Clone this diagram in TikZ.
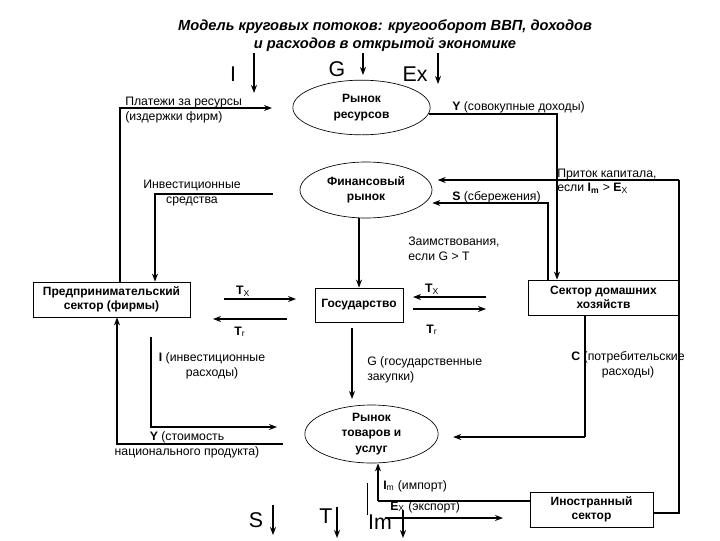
\documentclass[tikz,border=0pt]{standalone}
\usepackage{fontspec}
\setmainfont{Liberation Sans}
\usetikzlibrary{shapes.geometric,arrows.meta}
\begin{document}
\begin{tikzpicture}[x=0.75pt,y=-0.75pt,
  lbl/.style={font=\fontsize{9.2}{11}\selectfont, inner sep=0, align=center},
  big/.style={font=\fontsize{16}{18}\selectfont, inner sep=0},
  boxn/.style={draw, line width=0.6pt, font=\fontsize{9}{10.5}\selectfont\bfseries, align=center, inner sep=0},
  mkt/.style={ellipse, draw, line width=0.5pt, inner sep=0},
  mkttext/.style={font=\fontsize{9}{11.5}\selectfont\bfseries, align=center, inner sep=0},
  thinl/.style={line width=0.8pt},
  topl/.style={line width=1.1pt},
  thickl/.style={line width=2.2pt},
  tip/.style={-{Stealth[length=6pt,width=4.5pt]}},
]
\useasboundingbox (0,0) rectangle (720,540);

% title
\node[font=\fontsize{11}{13.5}\selectfont\bfseries\itshape, align=center] (title) at (385,36) {Модель круговых потоков: кругооборот ВВП, доходов\\и расходов в открытой экономике};

% big letters at top
\node[big] (bI) at (233,74) {I};
\node[big] (bG) at (337,69) {G};
\node[big] (bEx) at (415,74) {Ex};
\coordinate (aI1) at (254,53); \coordinate (aI2) at (254,93);
\coordinate (aG1) at (363,53); \coordinate (aG2) at (363,75);
\coordinate (aE1) at (438,53); \coordinate (aE2) at (438,84);
\draw[topl,tip] (aI1) -- (aI2);
\draw[topl,tip] (aG1) -- (aG2);
\draw[topl,tip] (aE1) -- (aE2);

% markets
\node[mkt, minimum width=103pt, minimum height=41pt] (resmkt) at (361.5,107.5) {};
\node[mkttext] (resmktT) at (resmkt.center) {Рынок\\ресурсов};
\node[mkt, minimum width=99pt, minimum height=42pt] (finmkt) at (366,190) {};
\node[mkttext] (finmktT) at (finmkt.center) {Финансовый\\рынок};
\node[mkt, minimum width=100pt, minimum height=43.5pt] (goods) at (371.5,434) {};
\node[mkttext] (goodsT) at (goods.center) {Рынок\\товаров и\\услуг};

% sectors
\node[boxn, minimum width=117.75pt, minimum height=26.25pt] (firms) at (111.5,299.5) {Предпринимательский\\сектор (фирмы)};
\node[boxn, minimum width=66pt, minimum height=25.5pt] (gov) at (359,305) {Государство};
\node[boxn, minimum width=113.25pt, minimum height=26.25pt] (house) at (603.5,297.5) {Сектор домашних\\хозяйств};
\node[boxn, minimum width=92.25pt, minimum height=26.25pt] (foreign) at (591.5,509.5) {Иностранный\\сектор};

% payments for resources
\coordinate (p1) at (120,108); \coordinate (p2) at (272,108);
\draw[thickl] (firms.north -| p1) -- ([yshift=0.8pt]p1);
\draw[thinl,tip] (p1) -- (p2);
\node[lbl, anchor=west, align=left] (lpay) at (125,110) {Платежи за ресурсы\\(издержки фирм)};

% Y aggregate income
\coordinate (y1) at (557,114);
\draw[thickl,tip] (resmkt.-5 |- y1) -- (y1) -- (house.north -| y1);
\node[lbl, anchor=west] (ly) at (452,107) {\textbf{Y} (совокупные доходы)};

% investment funds
\coordinate (f1) at (273,194); \coordinate (f2) at (155,194);
\draw[thinl,tip] (f1) -- (f2) -- (firms.north -| f2);
\node[lbl] (lfund) at (192,193) {Инвестиционные\\средства};

% capital inflow
\coordinate (c1) at (679,513); \coordinate (c2) at (679,180);
\draw[thinl] (foreign.east |- c1) -- (c1) -- (c2);
\draw[thickl,tip,shorten >=4pt] (c2) -- (finmkt.east |- c2);
\node[lbl, anchor=west, align=left] (lcap) at (557,181) {Приток капитала,\\если \textbf{I}\textsubscript{\textbf{m}} > \textbf{E}\textsubscript{X}};

% savings
\coordinate (s1) at (548,203);
\draw[thinl,tip] (house.north -| s1) -- (s1) -- (finmkt.east |- s1);
\node[lbl, anchor=west] (ls) at (452,197) {\textbf{S} (сбережения)};

% borrowing
\draw[thickl,tip] (finmkt.south -| gov.north) -- (gov.north);
\node[lbl, anchor=west, align=left] (lbor) at (408,249) {Заимствования,\\если G > T};

% taxes and transfers
\coordinate (tx1a) at (224,299); \coordinate (tx1b) at (296,299);
\coordinate (tr1a) at (287,319); \coordinate (tr1b) at (213,319);
\coordinate (tx2a) at (486,297); \coordinate (tx2b) at (413,297);
\coordinate (tr2a) at (413,309); \coordinate (tr2b) at (486,309);
\draw[thinl,tip] (tx1a) -- (tx1b);
\draw[thickl,tip] (tr1a) -- (tr1b);
\draw[thickl,tip] (tx2a) -- (tx2b);
\draw[thinl,tip] (tr2a) -- (tr2b);
\node[lbl] (ltx1) at (243,291) {\textbf{T}\textsubscript{X}};
\node[lbl] (ltr1) at (240,332) {\textbf{T}\textsubscript{r}};
\node[lbl] (ltx2) at (432,289) {\textbf{T}\textsubscript{X}};
\node[lbl] (ltr2) at (432,330) {\textbf{T}\textsubscript{r}};

% government purchases
\coordinate (g1) at (352,328); \coordinate (g2) at (352,399);
\draw[thickl,tip] (g1) -- (g2);
\node[lbl, anchor=west, align=left] (lg) at (367,369.5) {G (государственные\\закупки)};

% investment spending
\coordinate (i1) at (151,337); \coordinate (i2) at (151,427); \coordinate (i3) at (277,427);
\draw[thickl] (i1) -- ([yshift=-0.8pt]i2);
\draw[thinl,tip] (i2) -- (i3);
\node[lbl] (li) at (212,366) {\textbf{I} (инвестиционные\\расходы)};

% consumption
\coordinate (cc1) at (585,437);
\draw[thinl] (house.south -| cc1) -- (cc1);
\draw[thickl,tip,shorten >=11pt] ([xshift=0.3pt]cc1) -- (goods.east |- cc1);
\node[lbl] (lc) at (628,365) {\textbf{C} (потребительские\\расходы)};

% national product
\coordinate (n1) at (283,444); \coordinate (n2) at (117,444);
\draw[thinl,tip] (n1) -- (n2) -- (firms.south -| n2);
\node[lbl] (ln) at (187,444.5) {\textbf{Y} (стоимость\\национального продукта)};

% imports
\coordinate (m1) at (378,501);
\draw[thickl] (foreign.west |- m1) -- (m1);
\draw[thinl,tip] (m1) -- (goods.south -| m1);
\node[lbl, anchor=west] (lim) at (383,486) {\textbf{I}\textsubscript{m} (импорт)};

% exports
\coordinate (e1) at (385,518); \coordinate (e2) at (503,518);
\draw[thinl,tip] (e1) -- (e2);
\node[lbl, anchor=west] (lex) at (390,507) {\textbf{E}\textsubscript{X} (экспорт)};

% big letters at bottom
\node[big] (bS) at (256,520) {S};
\node[big] (bT) at (326,516) {T};
\node[big] (bIm) at (380,522) {Im};
\coordinate (imA) at (367.5,483); \coordinate (imB) at (367.5,515);
\draw[thinl] (imA) -- (imB);
\coordinate (bS1) at (273,505); \coordinate (bS2) at (273,535);
\coordinate (bT1) at (337,507); \coordinate (bT2) at (337,538);
\coordinate (bM1) at (403,510); \coordinate (bM2) at (403,538);
\draw[topl,tip] (bS1) -- (bS2);
\draw[topl,tip] (bT1) -- (bT2);
\draw[topl,tip] (bM1) -- (bM2);
\end{tikzpicture}
\end{document}
